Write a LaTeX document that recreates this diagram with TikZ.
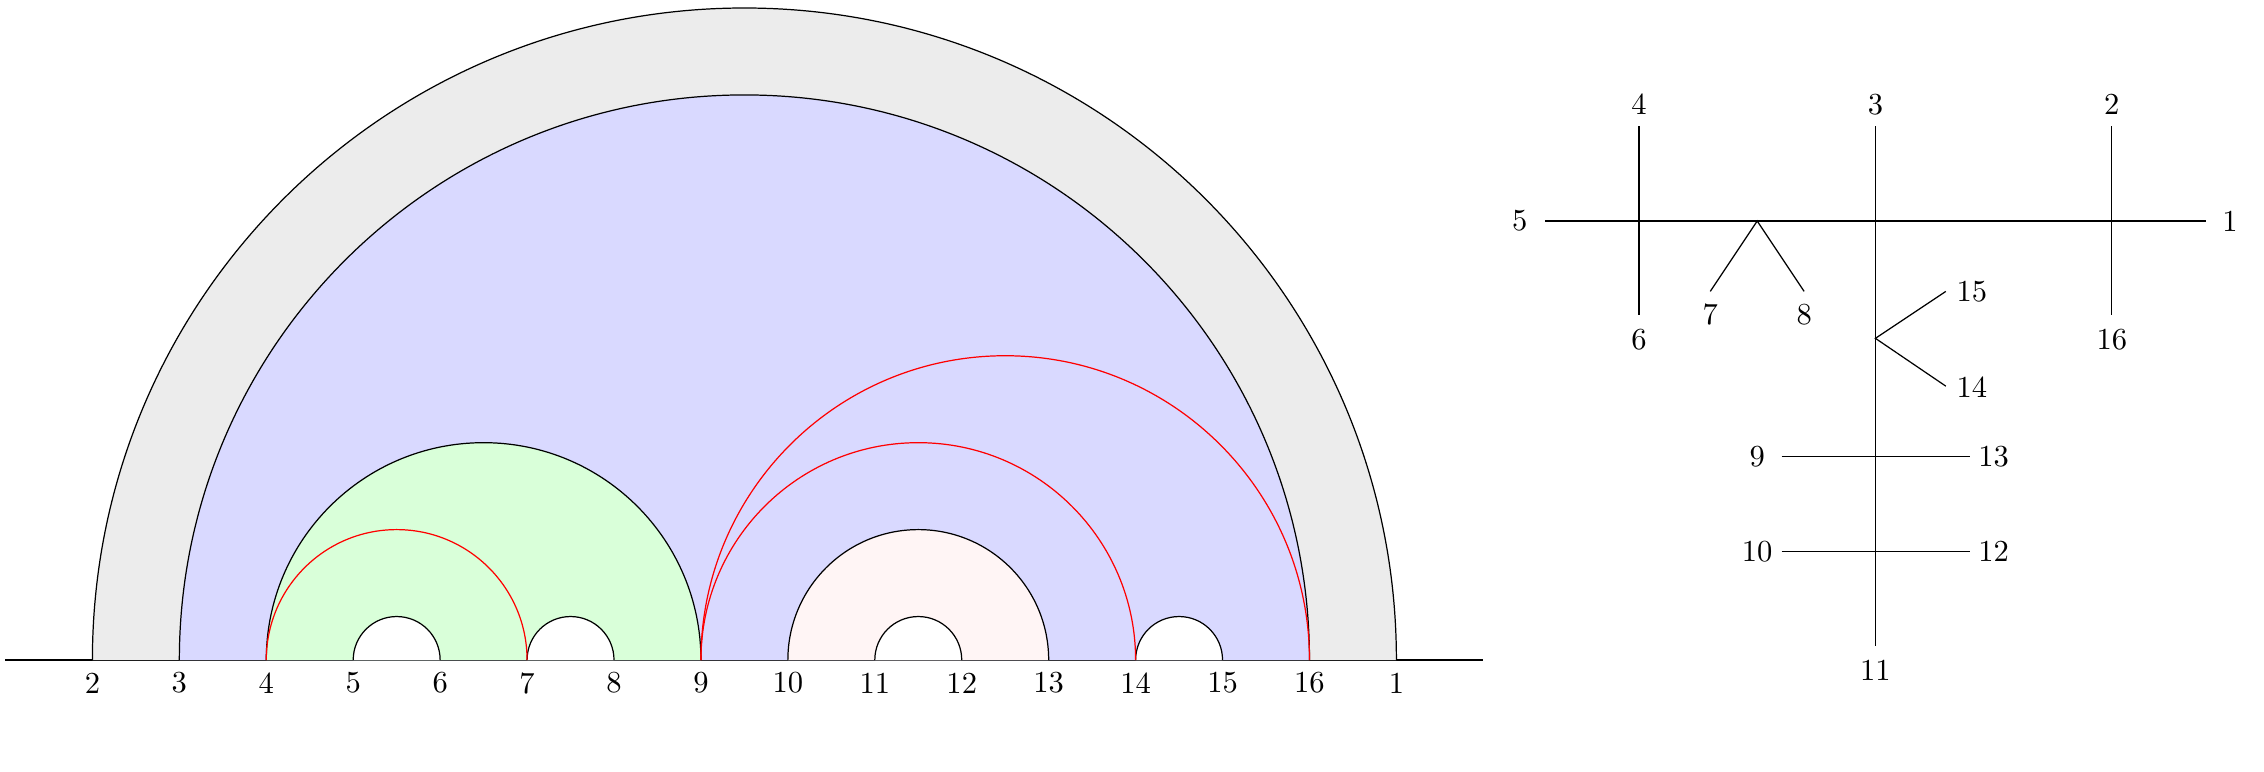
\documentclass[tikz,border=0pt]{standalone}
\begin{document}
\begin{tikzpicture}[
  lbl/.style={inner sep=0pt},
  chord/.style={draw=black, line width=0.4pt},
  redarc/.style={draw=red, line width=0.4pt},
  treeline/.style={draw=black, line width=0.4pt}
]
\useasboundingbox (-0.063,-1.288) rectangle (25.98,7.592);
% boundary points and their labels
\foreach \lab [count=\i] in {2,3,4,5,6,7,8,9,10,11,12,13,14,15,16,1} {
  \coordinate (c\lab) at (\i,0);
  \node[lbl] (p\lab) at (\i,-0.265) {\lab};
}
\coordinate (L) at (0,0);
\coordinate (R) at (17,0);
\draw (L) -- (R);
% filled regions
\filldraw[chord, fill=gray!15] (c2) arc[start angle=180, end angle=0, radius=7.5];
\filldraw[chord, fill=blue!15] (c3) arc[start angle=180, end angle=0, radius=6.5];
\filldraw[chord, fill=green!15] (c4) arc[start angle=180, end angle=0, radius=2.5];
\filldraw[chord, fill=red!4] (c10) arc[start angle=180, end angle=0, radius=1.5];
\filldraw[chord, fill=white] (c5) arc[start angle=180, end angle=0, radius=0.5];
\filldraw[chord, fill=white] (c7) arc[start angle=180, end angle=0, radius=0.5];
\filldraw[chord, fill=white] (c11) arc[start angle=180, end angle=0, radius=0.5];
\filldraw[chord, fill=white] (c14) arc[start angle=180, end angle=0, radius=0.5];
% red arcs
\draw[redarc] (c4) arc[start angle=180, end angle=0, radius=1.5];
\draw[redarc] (c9) arc[start angle=180, end angle=0, radius=2.5];
\draw[redarc] (c9) arc[start angle=180, end angle=0, radius=3.5];

% ---- tree ----
\node[lbl] (t5) at (17.42,5.05) {5};
\node[lbl] (t1) at (25.59,5.05) {1};
\node[lbl] (t4) at (18.79,6.39) {4};
\node[lbl] (t6) at (18.79,3.69) {6};
\node[lbl] (t3) at (21.51,6.39) {3};
\node[lbl] (t11) at (21.51,-0.115) {11};
\node[lbl] (t2) at (24.23,6.39) {2};
\node[lbl] (t16) at (24.23,3.69) {16};
\node[lbl] (t7) at (19.61,3.97) {7};
\node[lbl] (t8) at (20.69,3.97) {8};
\node[lbl] (t15) at (22.62,4.24) {15};
\node[lbl] (t14) at (22.62,3.14) {14};
\node[lbl] (t9) at (20.15,2.34) {9};
\node[lbl] (t13) at (22.87,2.34) {13};
\node[lbl] (t10) at (20.15,1.25) {10};
\node[lbl] (t12) at (22.87,1.25) {12};

\coordinate (h5) at (17.71,5.05);
\coordinate (h1) at (25.31,5.05);
\coordinate (v4t) at (18.79,6.14);
\coordinate (v4b) at (18.79,3.97);
\coordinate (v3t) at (21.51,6.14);
\coordinate (v3b) at (21.51,0.16);
\coordinate (v2t) at (24.23,6.14);
\coordinate (v2b) at (24.23,3.97);
\coordinate (a1) at (20.15,5.05);
\coordinate (e7) at (19.61,4.24);
\coordinate (e8) at (20.69,4.24);
\coordinate (a2) at (21.51,3.70);
\coordinate (e15) at (22.32,4.24);
\coordinate (e14) at (22.32,3.15);
\coordinate (e9) at (20.43,2.34);
\coordinate (e13) at (22.60,2.34);
\coordinate (e10) at (20.43,1.25);
\coordinate (e12) at (22.60,1.25);

\draw[treeline] (h5) -- (h1);
\draw[treeline] (v4t) -- (v4b);
\draw[treeline] (v3t) -- (v3b);
\draw[treeline] (v2t) -- (v2b);
\draw[treeline] (e7) -- (a1) -- (e8);
\draw[treeline] (e15) -- (a2) -- (e14);
\draw[treeline] (e9) -- (e13);
\draw[treeline] (e10) -- (e12);
\end{tikzpicture}
\end{document}
